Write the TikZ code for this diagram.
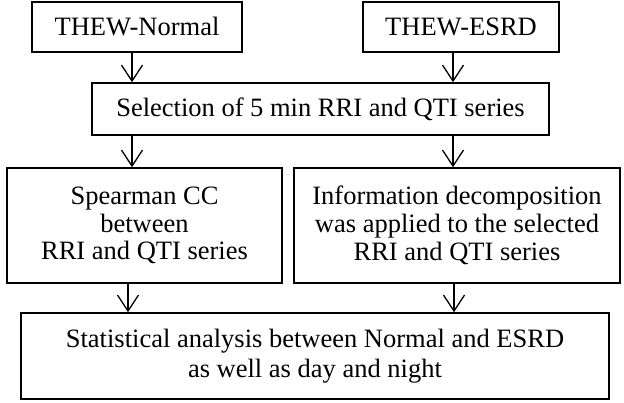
\documentclass[tikz,border=0pt]{standalone}
\usepackage{fontspec}
\setmainfont{Liberation Serif}
\usetikzlibrary{arrows.meta}
\begin{document}
\begin{tikzpicture}[x=1pt,y=-1pt,
  box/.style={draw,line width=1.5pt,inner sep=0pt,align=center,
    font=\fontsize{26.5pt}{27.7pt}\selectfont},
  arr/.style={line width=1.3pt,-{Straight Barb[length=16pt,width=21pt]}}]
\useasboundingbox (0,0) rectangle (624,402);
\node[box,minimum width=210pt,minimum height=50pt] (n1) at (137,27) {THEW-Normal};
\node[box,minimum width=196pt,minimum height=50pt] (n2) at (461,27) {THEW-ESRD};
\node[box,minimum width=457pt,minimum height=52pt] (sel) at (320.5,109) {Selection of 5 min RRI and QTI series};
\node[box,minimum width=275pt,minimum height=115pt] (sp) at (144.5,225.5) {Spearman CC\\between\\RRI and QTI series};
\node[box,minimum width=326pt,minimum height=115pt] (info) at (457,225.5) {Information decomposition\\was applied to the selected\\RRI and QTI series};
\node[box,minimum width=588pt,minimum height=86pt,font=\fontsize{26.5pt}{29.5pt}\selectfont] (stat) at (315,356) {Statistical analysis between Normal and ESRD\\as well as day and night};
\draw[arr] (n1.south -| 132,0) -- (sel.north -| 132,0);
\draw[arr] (n2.south -| 453,0) -- (sel.north -| 453,0);
\draw[arr] (sel.south -| 132,0) -- (sp.north -| 132,0);
\draw[arr] (sel.south -| 453,0) -- (info.north -| 453,0);
\draw[arr] (sp.south -| 128,0) -- (stat.north -| 128,0);
\draw[arr] (info.south -| 454,0) -- (stat.north -| 454,0);
\end{tikzpicture}
\end{document}
